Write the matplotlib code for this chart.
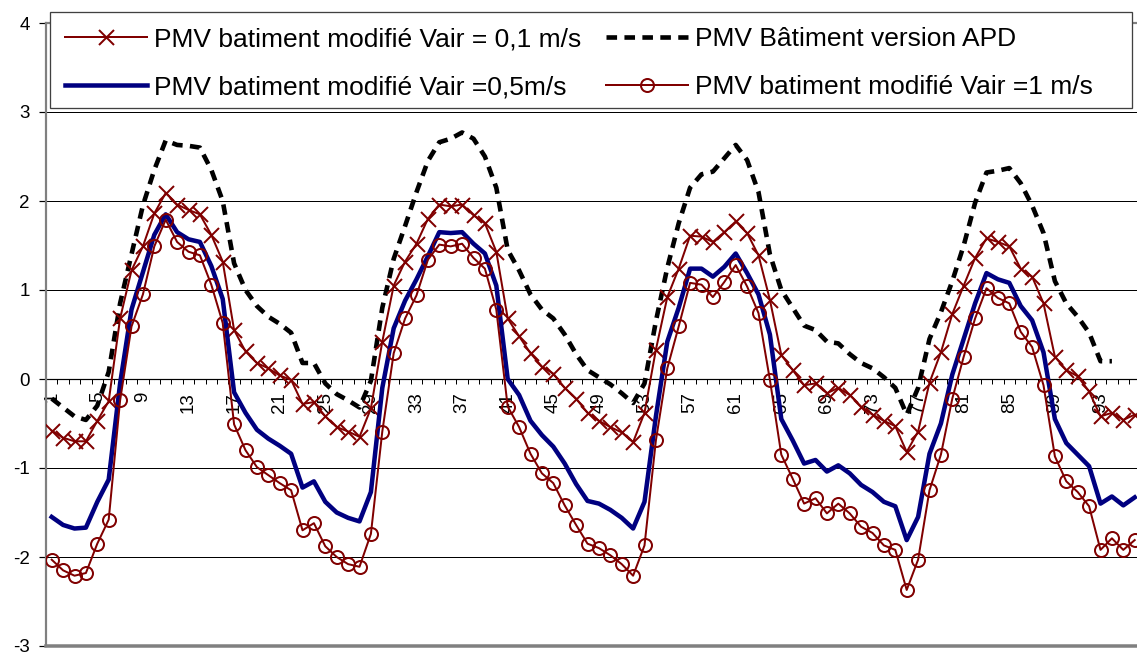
import numpy as np
import matplotlib
matplotlib.use("Agg")
import matplotlib.pyplot as plt
from matplotlib.patches import Rectangle

plt.rcParams['font.family'] = ['Liberation Sans', 'DejaVu Sans']
plt.rcParams['axes.unicode_minus'] = False

NaN = float('nan')

hours = list(range(1, 97))

pmv_v01 = [-0.58, -0.66, -0.70, -0.70, -0.47, -0.25, 0.68, 1.22, 1.49, 1.86,
           2.09, 1.96, 1.90, 1.85, 1.62, 1.32, 0.55, 0.31, 0.18, 0.12,
           0.04, -0.01, -0.28, -0.26, -0.42, -0.54, -0.59, -0.65, -0.33, 0.42,
           1.05, 1.32, 1.52, 1.80, 1.96, 1.94, 1.96, 1.84, 1.75, 1.43,
           0.68, 0.48, 0.29, 0.14, 0.06, -0.10, -0.22, -0.38, -0.47, -0.54,
           -0.60, -0.71, -0.38, 0.33, 0.92, 1.24, 1.61, 1.60, 1.54, 1.65,
           1.77, 1.64, 1.39, 0.89, 0.27, 0.10, -0.07, -0.05, -0.16, -0.10,
           -0.18, -0.31, -0.40, -0.47, -0.53, -0.82, -0.59, -0.04, 0.30, 0.73,
           1.05, 1.36, 1.58, 1.54, 1.49, 1.24, 1.15, 0.85, 0.25, 0.10,
           0.03, -0.14, -0.42, -0.38, -0.46, -0.40]

pmv_apd = [-0.22, -0.32, -0.42, -0.46, -0.30, 0.08, 0.85, 1.40, 1.95, 2.35,
           2.68, 2.63, 2.62, 2.60, 2.35, 2.00, 1.30, 1.00, 0.82, 0.70,
           0.62, 0.52, 0.18, 0.18, -0.05, -0.17, -0.24, -0.32, -0.02, 0.80,
           1.35, 1.72, 2.10, 2.45, 2.66, 2.70, 2.77, 2.70, 2.50, 2.15,
           1.45, 1.22, 0.95, 0.78, 0.68, 0.50, 0.28, 0.10, 0.02, -0.06,
           -0.16, -0.27, -0.05, 0.65, 1.25, 1.75, 2.15, 2.30, 2.33, 2.48,
           2.63, 2.46, 2.10, 1.40, 1.00, 0.80, 0.60, 0.55, 0.42, 0.40,
           0.28, 0.18, 0.12, 0.02, -0.10, -0.40, -0.10, 0.45, 0.75, 1.10,
           1.50, 1.98, 2.32, 2.34, 2.37, 2.20, 1.95, 1.64, 1.10, 0.85,
           0.70, 0.52, 0.20, 0.20, NaN, NaN]

pmv_v05 = [-1.55, -1.64, -1.68, -1.67, -1.38, -1.13, -0.05, 0.78, 1.20, 1.62,
           1.85, 1.65, 1.57, 1.54, 1.27, 0.90, -0.15, -0.38, -0.57, -0.67,
           -0.75, -0.84, -1.22, -1.15, -1.38, -1.50, -1.56, -1.60, -1.27, -0.10,
           0.57, 0.88, 1.12, 1.38, 1.65, 1.64, 1.65, 1.52, 1.41, 1.05,
           0.00, -0.18, -0.47, -0.63, -0.76, -0.95, -1.18, -1.37, -1.40, -1.47,
           -1.56, -1.68, -1.38, -0.42, 0.42, 0.80, 1.24, 1.24, 1.15, 1.26,
           1.41, 1.19, 0.95, 0.50, -0.45, -0.69, -0.95, -0.91, -1.04, -0.97,
           -1.06, -1.19, -1.27, -1.38, -1.43, -1.81, -1.55, -0.84, -0.50, 0.05,
           0.45, 0.85, 1.19, 1.12, 1.08, 0.82, 0.66, 0.30, -0.45, -0.72,
           -0.85, -0.98, -1.40, -1.32, -1.42, -1.33]

pmv_v1 = [-2.03, -2.15, -2.21, -2.18, -1.85, -1.58, -0.24, 0.59, 0.95, 1.49,
          1.79, 1.54, 1.43, 1.39, 1.06, 0.63, -0.51, -0.80, -0.99, -1.08,
          -1.17, -1.25, -1.70, -1.62, -1.88, -2.00, -2.08, -2.11, -1.74, -0.59,
          0.29, 0.68, 0.94, 1.34, 1.51, 1.49, 1.52, 1.36, 1.24, 0.78,
          -0.31, -0.54, -0.84, -1.06, -1.17, -1.42, -1.64, -1.85, -1.90, -1.98,
          -2.08, -2.21, -1.87, -0.69, 0.12, 0.59, 1.08, 1.06, 0.92, 1.09,
          1.28, 1.04, 0.74, -0.01, -0.85, -1.12, -1.40, -1.34, -1.51, -1.40,
          -1.51, -1.66, -1.73, -1.87, -1.92, -2.37, -2.03, -1.25, -0.85, -0.22,
          0.25, 0.68, 1.02, 0.91, 0.85, 0.53, 0.36, -0.07, -0.87, -1.15,
          -1.27, -1.43, -1.92, -1.79, -1.92, -1.81]

labels = ["PMV batiment modifié Vair = 0,1 m/s",
          "PMV Bâtiment version APD",
          "PMV batiment modifié Vair =0,5m/s",
          "PMV batiment modifié Vair =1 m/s"]

xtick_labels = [str(h) for h in range(1, 97, 4)]
ytick_values = [-3, -2, -1, 0, 1, 2, 3, 4]

W, H = 1137, 655
fig = plt.figure(figsize=(W / 100, H / 100), dpi=100)
fig.patch.set_facecolor('white')

px = 72 / 100  # points per pixel
cat_w = 11.4
ax_left, ax_top, ax_bot = 46, 23, 646
ax = fig.add_axes([ax_left / W, (H - ax_bot) / H, 96 * cat_w / W, (ax_bot - ax_top) / H])
ax.set_xlim(0.5, 96.5)
ax.set_ylim(-3, 4)

dark_red = '#800000'
navy = '#000080'

x = np.array(hours)
l_apd, = ax.plot(x, pmv_apd, color='black', lw=4.6 * px, dashes=(2.3, 1.6),
                 solid_capstyle='butt', dash_capstyle='butt', zorder=3)
l_01, = ax.plot(x, pmv_v01, color=dark_red, lw=2.0 * px, marker='x',
                markersize=15 * px, markeredgewidth=2.0 * px, zorder=4)
l_05, = ax.plot(x, pmv_v05, color=navy, lw=4.5 * px, zorder=5)
l_1, = ax.plot(x, pmv_v1, color=dark_red, lw=2.0 * px, marker='o',
               markersize=13 * px, markeredgewidth=2.0 * px,
               markerfacecolor='none', zorder=6)

# grid
ax.set_yticks(ytick_values)
ax.set_yticklabels([str(v) for v in ytick_values])
for v in [-2, -1, 1, 2, 3]:
    ax.axhline(v, color='black', lw=1.0 * px, zorder=1)

# spines
for s in ['left', 'top', 'right']:
    ax.spines[s].set_color('#808080')
    ax.spines[s].set_linewidth(2.2 * px)
ax.spines['bottom'].set_position(('data', 0))
ax.spines['bottom'].set_color('black')
ax.spines['bottom'].set_linewidth(1.2 * px)
ax.spines['bottom'].set_zorder(2)
ax.axhline(-3, color='#808080', lw=3.5 * px, zorder=2, clip_on=False)

ax.tick_params(axis='y', direction='out', length=7 * px, width=1.2 * px,
               color='black', pad=9 * px, labelsize=13.5, labelcolor='black')

ax.set_xticks(np.arange(1, 97, 4))
ax.set_xticklabels(xtick_labels, rotation=90, va='top', ha='center')
ax.set_xticks(np.arange(0.5, 97, 1), minor=True)
ax.tick_params(axis='x', which='major', length=0, pad=13 * px, labelsize=13.5)
ax.tick_params(axis='x', which='minor', direction='out', length=5 * px,
               width=1.0 * px, color='black')

# legend frame
lx0, ly0, lx1, ly1 = 50, 12, 1132, 108
rect = Rectangle((lx0 / W, 1 - ly1 / H), (lx1 - lx0) / W, (ly1 - ly0) / H,
                 transform=fig.transFigure, facecolor='white',
                 edgecolor='#404040', lw=1.3 * px, zorder=10)
fig.patches.append(rect)

fs = 19
leg = fig.legend([l_01, l_05, l_apd, l_1],
                 [labels[0], labels[2], labels[1], labels[3]],
                 ncol=2, loc='upper left',
                 bbox_to_anchor=(60 / W, 1 - 22 / H),
                 frameon=False, fontsize=fs, handlelength=3.1,
                 handletextpad=0.26, columnspacing=0.95, labelspacing=0.9,
                 numpoints=1, borderpad=0.2, borderaxespad=0)
leg.set_zorder(11)

fig.savefig('out.png', dpi=100, facecolor='white')
